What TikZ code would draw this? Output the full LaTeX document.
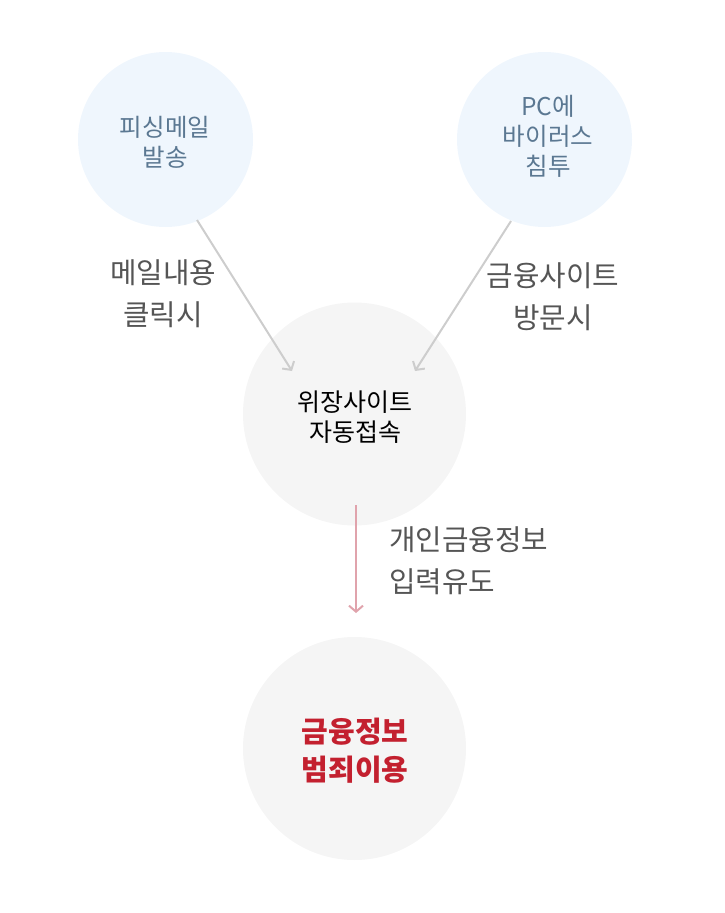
\documentclass[tikz,border=0pt]{standalone}
\usepackage{fontspec}
\setmainfont{Noto Sans CJK KR}
\usetikzlibrary{arrows.meta}
\definecolor{bluefill}{HTML}{EFF6FD}
\definecolor{grayfill}{HTML}{F5F5F5}
\definecolor{bluetext}{HTML}{5B7892}
\definecolor{labeltext}{HTML}{555555}
\definecolor{arrowgray}{HTML}{CDCDCD}
\definecolor{arrowpink}{HTML}{E0A3AC}
\definecolor{redtext}{HTML}{C3202F}
\tikzset{
  bluecircle/.style={circle, fill=bluefill, minimum size=175pt, inner sep=0pt},
  graycircle/.style={circle, fill=grayfill, minimum size=223pt, inner sep=0pt},
  smalltxt/.style={align=center, inner sep=0pt, font=\fontsize{24.5}{30}\selectfont},
  labeltxt/.style={inner sep=0pt, text=labeltext, font=\fontsize{28.8}{42}\selectfont},
  grayarrow/.style={draw=arrowgray, line width=2pt, -{Straight Barb[length=6pt,width=14pt]}},
  pinkarrow/.style={draw=arrowpink, line width=2pt, -{Straight Barb[length=6pt,width=14pt]}}
}
\begin{document}
\begin{tikzpicture}[x=1pt,y=-1pt]
\useasboundingbox (0,0) rectangle (724,913);
\node[bluecircle] (c1) at (165.5,139.5) {};
\node[bluecircle] (c2) at (544.5,139.5) {};
\node[graycircle] (c3) at (354.5,414) {};
\node[graycircle] (c4) at (354.5,748.5) {};
\node[smalltxt, text=bluetext] (t1) at (165,142) {피싱메일\\발송};
\node[smalltxt, text=bluetext] (t2) at (548,136) {PC에\\바이러스\\침투};
\node[align=center, inner sep=0pt, text=black, font=\fontsize{25}{30}\selectfont] (t3) at (355,417) {위장사이트\\자동접속};
\node[align=center, inner sep=0pt, text=redtext, font=\fontsize{29}{38}\selectfont\bfseries] (t4) at (355,751) {금융정보\\범죄이용};
\node[labeltxt, align=center] (l1) at (163,294) {메일내용\\클릭시};
\node[labeltxt, align=center] (l2) at (553,296.5) {금융사이트\\방문시};
\node[labeltxt, align=left, anchor=west] (l3) at (389,561) {개인금융정보\\입력유도};
\coordinate (a1s) at (197,220);
\coordinate (a1e) at (292,371);
\coordinate (a2s) at (511,221);
\coordinate (a2e) at (415,371);
\coordinate (a3s) at (356,505);
\coordinate (a3e) at (356,613);
\draw[grayarrow] (a1s) -- (a1e);
\draw[grayarrow] (a2s) -- (a2e);
\draw[pinkarrow] (a3s) -- (a3e);
\end{tikzpicture}
\end{document}
